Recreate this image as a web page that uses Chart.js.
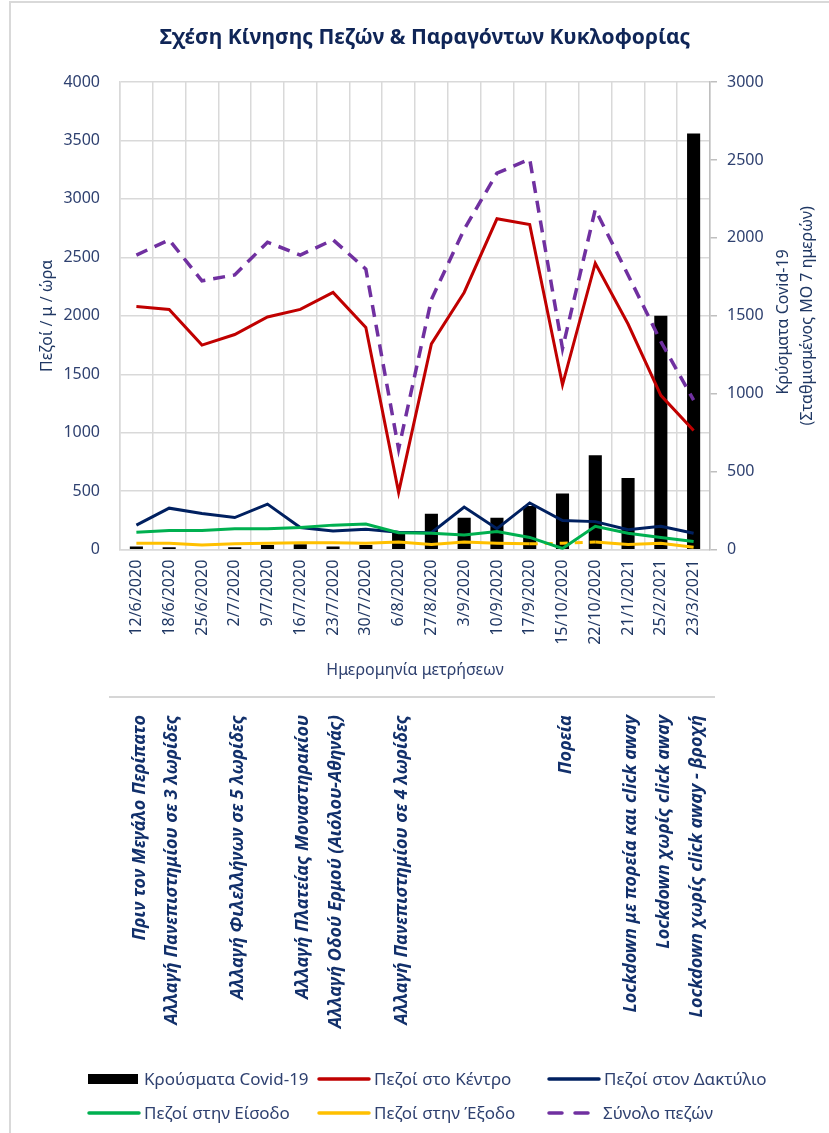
<!DOCTYPE html>
<html>
<head>
<meta charset="utf-8">
<script src="https://cdn.jsdelivr.net/npm/chart.js@4.4.1/dist/chart.umd.min.js"></script>
<style>
  html, body { margin: 0; padding: 0; background: #fff; }
  #wrap { position: relative; width: 829px; height: 1133px; }
</style>
</head>
<body>
<div id="wrap"><canvas id="chart" width="829" height="1133"></canvas></div>
<script>
// dates of the measurements
const labels = ['12/6/2020', '18/6/2020', '25/6/2020', '2/7/2020', '9/7/2020', '16/7/2020',
    '23/7/2020', '30/7/2020', '6/8/2020', '27/8/2020', '3/9/2020', '10/9/2020',
    '17/9/2020', '15/10/2020', '22/10/2020', '21/1/2021', '25/2/2021', '23/3/2021'];

// right axis - covid cases (7 day average)
const covidCases = [20, 15, 5, 15, 30, 35, 20, 30, 110, 230, 205, 205, 280, 360, 605, 460, 1500, 2670];

// left axis - pedestrians / m / hour
const centerPeds = [2080, 2055, 1750, 1840, 1990, 2055, 2200, 1900, 490, 1760, 2200, 2830, 2780, 1410, 2450, 1930, 1320, 1020];
const ringPeds   = [210, 355, 310, 275, 390, 190, 160, 175, 150, 145, 365, 180, 400, 250, 240, 170, 200, 140];
const entryPeds  = [150, 165, 165, 180, 180, 190, 210, 220, 145, 140, 125, 155, 105, 10, 200, 140, 105, 70];
const exitPeds   = [55, 55, 40, 50, 55, 60, 60, 55, 65, 45, 65, 55, 50, 55, 65, 45, 55, 20];
const totalPeds  = [2520, 2650, 2300, 2350, 2630, 2520, 2650, 2400, 860, 2140, 2740, 3220, 3340, 1720, 2910, 2350, 1780, 1280];

// events written under each date (empty = nothing)
const events = ['Πριν τον Μεγάλο Περίπατο', 'Αλλαγή Πανεπιστημίου σε 3 λωρίδες', '',
    'Αλλαγή Φιλελλήνων σε 5 λωρίδες', '', 'Αλλαγή Πλατείας Μοναστηρακίου',
    'Αλλαγή Οδού Ερμού (Αιόλου-Αθηνάς)', '', 'Αλλαγή Πανεπιστημίου σε 4 λωρίδες',
    '', '', '', '', 'Πορεία', '', 'Lockdown με πορεία και click away',
    'Lockdown χωρίς click away', 'Lockdown χωρίς click away - βροχή'];

// segments of the exit line drawn dashed (start index)
const exitDashedFrom = [12, 13];

const FONT = '"Noto Sans", "Open Sans", sans-serif';
const NAVY = '#203864';
const TICK = '#2f4170';
const GRID = '#d9d9d9';

// extra drawing: frame, title, right axis title, separator, events, legend
const extras = {
    id: 'extras',
    afterDraw(chart) {
        const c = chart.ctx;
        const x = chart.scales.x;
        const area = chart.chartArea;
        c.save();

        // frame
        c.strokeStyle = GRID;
        c.lineWidth = 2;
        c.beginPath();
        c.moveTo(10, 1133);
        c.lineTo(10, 2);
        c.lineTo(829, 2);
        c.stroke();

        // title
        c.fillStyle = '#0f2557';
        c.font = 'bold 21px ' + FONT;
        c.textAlign = 'center';
        c.textBaseline = 'middle';
        c.fillText('Σχέση Κίνησης Πεζών & Παραγόντων Κυκλοφορίας', 425, 38);

        // right axis title, reading upwards
        c.fillStyle = NAVY;
        c.font = '16px ' + FONT;
        const midY = (area.top + area.bottom) / 2;
        [['Κρύσματα Covid-19', 73, 6], ['(Σταθμισμένος ΜΟ 7 ημερών)', 97, 0]].forEach(t => {
            c.save();
            c.translate(area.right + t[1], midY + t[2]);
            c.rotate(-Math.PI / 2);
            c.fillText(t[0], 0, 0);
            c.restore();
        });

        // separator line
        c.strokeStyle = '#c8c8c8';
        c.lineWidth = 1.5;
        c.beginPath();
        c.moveTo(109, 697);
        c.lineTo(715, 697);
        c.stroke();

        // events
        c.fillStyle = '#12306b';
        c.font = 'italic bold 18px ' + FONT;
        c.textAlign = 'right';
        events.forEach((txt, i) => {
            if (!txt) return;
            c.save();
            c.translate(x.getPixelForValue(i) + 3, 715);
            c.rotate(-Math.PI / 2);
            c.fillText(txt, 0, 0);
            c.restore();
        });

        // legend, 3 columns
        const items = chart.data.datasets.slice().sort((a, b) => a.legendIdx - b.legendIdx);
        c.font = '17px ' + FONT;
        c.textAlign = 'left';
        items.forEach((ds, i) => {
            const lx = 88 + (i % 3) * 230;
            const ly = 1079 + Math.floor(i / 3) * 34;
            if (ds.type === 'bar') {
                c.fillStyle = '#000';
                c.fillRect(lx, ly - 5, 50, 10);
            } else {
                c.strokeStyle = ds.borderColor;
                c.lineWidth = 3.5;
                c.lineCap = 'round';
                c.beginPath();
                if (ds.borderDash) {
                    c.moveTo(lx + 1, ly); c.lineTo(lx + 14, ly);
                    c.moveTo(lx + 27, ly); c.lineTo(lx + 40, ly);
                } else {
                    c.moveTo(lx + 1, ly); c.lineTo(lx + 51, ly);
                }
                c.stroke();
            }
            c.fillStyle = TICK;
            c.fillText(ds.label, lx + (ds.borderDash ? 55 : 56), ly + 1);
        });
        c.restore();
    }
};

const plain = v => String(v);

new Chart(document.getElementById('chart'), {
    type: 'bar',
    data: {
        labels: labels,
        datasets: [
            { type: 'line', label: 'Σύνολο πεζών', data: totalPeds, yAxisID: 'y', legendIdx: 5,
              borderColor: '#7030a0', borderWidth: 3.5, borderDash: [12, 8], pointRadius: 0, tension: 0, order: 1 },
            { type: 'line', label: 'Πεζοί στο Κέντρο', data: centerPeds, yAxisID: 'y', legendIdx: 1,
              borderColor: '#c00000', borderWidth: 3, pointRadius: 0, tension: 0, order: 2 },
            { type: 'line', label: 'Πεζοί στην Είσοδο', data: entryPeds, yAxisID: 'y', legendIdx: 3,
              borderColor: '#00b050', borderWidth: 3, pointRadius: 0, tension: 0, order: 3 },
            { type: 'line', label: 'Πεζοί στην Έξοδο', data: exitPeds, yAxisID: 'y', legendIdx: 4,
              borderColor: '#ffc000', borderWidth: 3, pointRadius: 0, tension: 0, order: 4,
              segment: { borderDash: ctx => exitDashedFrom.includes(ctx.p0DataIndex) ? [8, 7] : undefined } },
            { type: 'line', label: 'Πεζοί στον Δακτύλιο', data: ringPeds, yAxisID: 'y', legendIdx: 2,
              borderColor: '#002060', borderWidth: 3, pointRadius: 0, tension: 0, order: 5 },
            { type: 'bar', label: 'Κρούσματα Covid-19', data: covidCases, yAxisID: 'y1', legendIdx: 0,
              backgroundColor: '#000', barPercentage: 0.4, categoryPercentage: 1, order: 10 }
        ]
    },
    options: {
        responsive: false,
        animation: false,
        layout: { padding: { top: 82, left: 34, right: 59, bottom: 453 } },
        plugins: {
            legend: { display: false },
            tooltip: { enabled: false },
            title: { display: false }
        },
        scales: {
            x: {
                grid: { color: GRID, lineWidth: 1.5, offset: true, drawTicks: false },
                border: { color: GRID, width: 1.5 },
                ticks: { color: NAVY, font: { family: FONT, size: 16 }, maxRotation: 90, minRotation: 90, padding: 10, autoSkip: false },
                title: { display: true, text: 'Ημερομηνία μετρήσεων', color: TICK,
                         font: { family: FONT, size: 16 }, padding: { top: 6, bottom: 0 } }
            },
            y: {
                position: 'left',
                min: 0, max: 4000,
                afterFit: s => { s.width = 86; },
                ticks: { stepSize: 500, color: TICK, font: { family: FONT, size: 16 }, padding: 20, callback: plain },
                grid: { color: GRID, lineWidth: 1.5, drawTicks: false },
                border: { color: GRID, width: 1.5 },
                title: { display: true, text: 'Πεζοί / μ / ώρα', color: NAVY,
                         font: { family: FONT, size: 16 }, padding: { top: 4, bottom: 5 } }
            },
            y1: {
                position: 'right',
                min: 0, max: 3000,
                afterFit: s => { s.width = 60; },
                ticks: { stepSize: 500, color: TICK, font: { family: FONT, size: 16 }, padding: 10, callback: plain },
                grid: { drawOnChartArea: false, color: '#bfbfbf', lineWidth: 1.5, tickLength: 7 },
                border: { color: '#bfbfbf', width: 1.5 }
            }
        }
    },
    plugins: [extras]
});
</script>
</body>
</html>
